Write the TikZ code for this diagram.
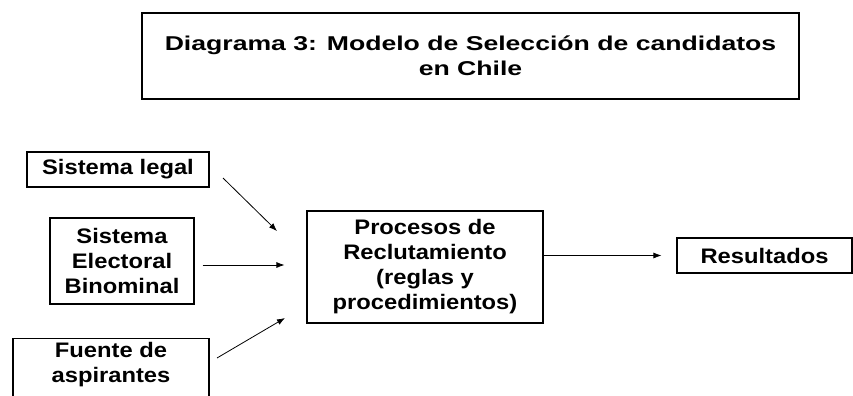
\documentclass[tikz,border=0pt]{standalone}
\usepackage{fontspec}
\setmainfont{Liberation Sans}[FakeStretch=1.13]
\newfontfamily\titlefont{Liberation Sans}[FakeStretch=1.33]
\usetikzlibrary{arrows.meta}
\tikzset{
  caja/.style={draw, line width=0.8pt, inner sep=3pt, align=center,
    font=\fontsize{15.75}{18.75}\selectfont\bfseries},
  flecha/.style={-{Latex[length=6pt,width=4.5pt]}, line width=0.6pt}
}
\begin{document}
\begin{tikzpicture}[x=0.75pt, y=-0.75pt]
  \useasboundingbox (0,0) rectangle (853,396);
  \clip (0,0) rectangle (853,396);

  \node[caja, minimum width=492.75pt, minimum height=64.5pt,
    font=\titlefont\fontsize{15}{19}\selectfont\bfseries] (titulo) at (470.5,56)
    {Diagrama 3: Modelo de Selección de candidatos\\en Chile};

  \node[caja, minimum width=136.5pt, minimum height=26.25pt] (legal) at (118,169.5) {Sistema legal};
  \node[caja, minimum width=108pt, minimum height=64.5pt] (electoral) at (122,261) {Sistema\\Electoral\\Binominal};
  \node[caja, minimum width=147pt, anchor=north] (fuente) at (111,338) {Fuente de\\aspirantes\rule[-30pt]{0pt}{30pt}};
  \node[caja, minimum width=177pt, minimum height=84pt] (procesos) at (425,267)
    {Procesos de\\Reclutamiento\\(reglas y\\procedimientos)};
  \node[caja, minimum width=131.25pt, minimum height=26.25pt] (resultados) at (764.5,255.5) {Resultados};

  % extremos libres de las flechas
  \coordinate (legal out) at (223,178);
  \coordinate (legal in) at (277,231);
  \coordinate (fuente out) at (217,358);
  \coordinate (fuente in) at (285,318);

  \draw[flecha] (legal out) -- (legal in);
  \draw[flecha, shorten <=6pt, shorten >=16.5pt] ([yshift=1.5pt]electoral.east |- procesos.west) -- ([yshift=1.5pt]procesos.west);
  \draw[flecha] (fuente out) -- (fuente in);
  \draw[flecha, shorten >=11.25pt] (procesos.east |- resultados.west) -- (resultados.west);
\end{tikzpicture}
\end{document}
